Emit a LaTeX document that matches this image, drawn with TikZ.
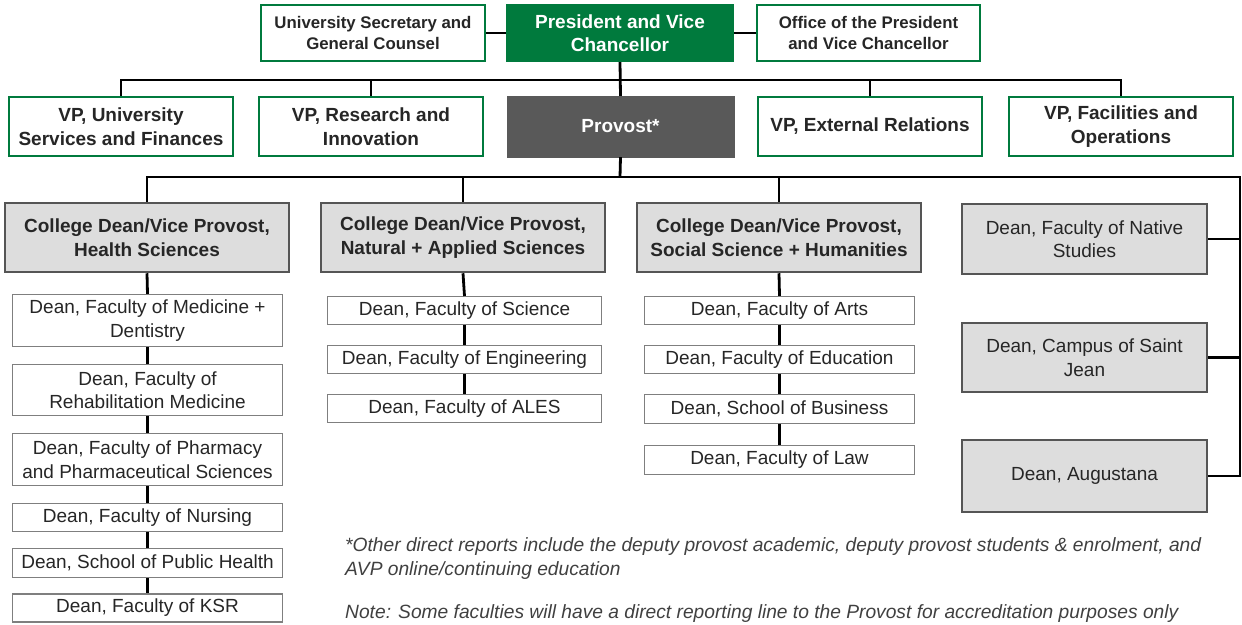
\documentclass[tikz,border=0pt]{standalone}
\usepackage{fontspec}
\setmainfont{Liberation Sans}
\definecolor{ugreen}{HTML}{007A3D}
\definecolor{darkbox}{HTML}{595959}
\definecolor{lightbox}{HTML}{DDDDDD}
\definecolor{boxline}{HTML}{555555}
\definecolor{childline}{HTML}{7F7F7F}
\definecolor{txt}{HTML}{262626}
\definecolor{notetxt}{HTML}{404040}
\begin{document}
\begin{tikzpicture}[x=1pt,y=-1pt,
 base/.style={rectangle, inner sep=0pt, align=center, text=txt, font=\fontsize{19}{23.5}\selectfont},
 wh/.style 2 args={minimum width=#1pt, minimum height=#2pt},
 greenbox/.style={base, draw=ugreen, fill=white, line width=2.2pt, font=\bfseries\fontsize{19}{23.5}\selectfont},
 topbox/.style={greenbox, font=\bfseries\fontsize{16.8}{21}\selectfont},
 presbox/.style={base, draw=ugreen, fill=ugreen, text=white, line width=2.2pt, font=\bfseries\fontsize{19}{23.5}\selectfont},
 provbox/.style={base, draw=darkbox, fill=darkbox, text=white, font=\bfseries\fontsize{19}{23.5}\selectfont},
 collbox/.style={base, draw=boxline, fill=lightbox, line width=2.5pt, font=\bfseries\fontsize{19}{23.5}\selectfont},
 sidebox/.style={base, draw=boxline, fill=lightbox, line width=2.5pt},
 childbox/.style={base, draw=childline, fill=white, line width=1.1pt},
 link/.style={line width=2.8pt, black},
 note/.style={anchor=base west, inner sep=0pt, text=notetxt, font=\itshape\fontsize{19.2}{24}\selectfont}
]
\useasboundingbox (0,0) rectangle (1242,624);

% top row
\node[topbox, wh={224}{56}] (usec) at (373,33) {University Secretary and\\General Counsel};
\node[presbox, wh={226}{56}] (pres) at (620,33) {President and Vice\\Chancellor};
\node[topbox, wh={223}{56}] (office) at (868.5,33) {Office of the President\\and Vice Chancellor};

% VP row
\node[greenbox, wh={224}{59}] (vp1) at (121,126.5) {VP, University\\Services and Finances};
\node[greenbox, wh={224}{59}] (vp2) at (371,126.5) {VP, Research and\\Innovation};
\node[provbox, wh={227}{61}] (prov) at (620.5,126.5) {Provost*};
\node[greenbox, wh={224}{59}] (vp4) at (870,126.5) {VP, External Relations};
\node[greenbox, wh={224}{59}] (vp5) at (1121,126.5) {VP, Facilities and\\Operations};

% college row
\node[collbox, wh={284}{69}] (health) at (147,237.5) {College Dean/Vice Provost,\\Health Sciences};
\node[collbox, wh={284}{69}] (natural) at (463,237.5) {College Dean/Vice Provost,\\Natural + Applied Sciences};
\node[collbox, wh={284}{69}] (social) at (779,237.5) {College Dean/Vice Provost,\\Social Science + Humanities};

% right column
\node[sidebox, wh={245}{70}] (native) at (1084.5,239) {Dean, Faculty of Native\\Studies};
\node[sidebox, wh={245}{69}] (jean) at (1084.5,357.5) {Dean, Campus of Saint\\Jean};
\node[sidebox, wh={245}{72}] (aug) at (1084.5,476) {Dean, Augustana};

% health children
\node[childbox, wh={270}{52}] (med) at (147.5,320.5) {Dean, Faculty of Medicine +\\Dentistry};
\node[childbox, wh={270}{51}] (rehab) at (147.5,390) {Dean, Faculty of\\Rehabilitation Medicine};
\node[childbox, wh={270}{52}] (pharm) at (147.5,459.5) {Dean, Faculty of Pharmacy\\and Pharmaceutical Sciences};
\node[childbox, wh={270}{28}] (nurs) at (147.5,517.5) {Dean, Faculty of Nursing};
\node[childbox, wh={270}{29}] (pub) at (147.5,563) {Dean, School of Public Health};
\node[childbox, wh={270}{28}] (ksr) at (147.5,608) {Dean, Faculty of KSR};

% natural children
\node[childbox, wh={274}{28}] (sci) at (464.5,310.5) {Dean, Faculty of Science};
\node[childbox, wh={274}{28}] (eng) at (464.5,359.5) {Dean, Faculty of Engineering};
\node[childbox, wh={274}{28}] (ales) at (464.5,408.5) {Dean, Faculty of ALES};

% social children
\node[childbox, wh={270}{28}] (arts) at (779.5,310.5) {Dean, Faculty of Arts};
\node[childbox, wh={270}{28}] (edu) at (779.5,359.5) {Dean, Faculty of Education};
\node[childbox, wh={270}{29}] (bus) at (779.5,409) {Dean, School of Business};
\node[childbox, wh={270}{29}] (law) at (779.5,460) {Dean, Faculty of Law};

% connectors
\coordinate (b1) at (620,80);
\coordinate (b2) at (620,177);
\coordinate (rc) at (1240,177);
\draw[link] (usec.east) -- (pres.west);
\draw[link] (pres.east) -- (office.west);
\draw[link] (pres.south) -- (prov.north);
\draw[link] (vp1.north) |- (b1) -| (vp5.north);
\draw[link] (vp2.north) -- (vp2.north |- b1);
\draw[link] (vp4.north) -- (vp4.north |- b1);
\draw[link] (prov.south) -- (b2);
\draw[link] (health.north) |- (rc) -- (rc |- aug.east) -- (aug.east);
\draw[link] (natural.north) -- (natural.north |- b2);
\draw[link] (social.north) -- (social.north |- b2);
\draw[link] (native.east) -- (native.east -| rc);
\draw[link] (jean.east) -- (jean.east -| rc);

\draw[link] (health.south) -- (med.north);
\draw[link] (med.south) -- (rehab.north);
\draw[link] (rehab.south) -- (pharm.north);
\draw[link] (pharm.south) -- (nurs.north);
\draw[link] (nurs.south) -- (pub.north);
\draw[link] (pub.south) -- (ksr.north);

\draw[link] (natural.south) -- (sci.north);
\draw[link] (sci.south) -- (eng.north);
\draw[link] (eng.south) -- (ales.north);

\draw[link] (social.south) -- (arts.north);
\draw[link] (arts.south) -- (edu.north);
\draw[link] (edu.south) -- (bus.north);
\draw[link] (bus.south) -- (law.north);

% notes
\node[note] (n1) at (345,551) {*Other direct reports include the deputy provost academic, deputy provost students \& enrolment, and};
\node[note] (n2) at (345,575) {AVP online/continuing education};
\node[note] (n3) at (345,618) {Note: Some faculties will have a direct reporting line to the Provost for accreditation purposes only};
\end{tikzpicture}
\end{document}
